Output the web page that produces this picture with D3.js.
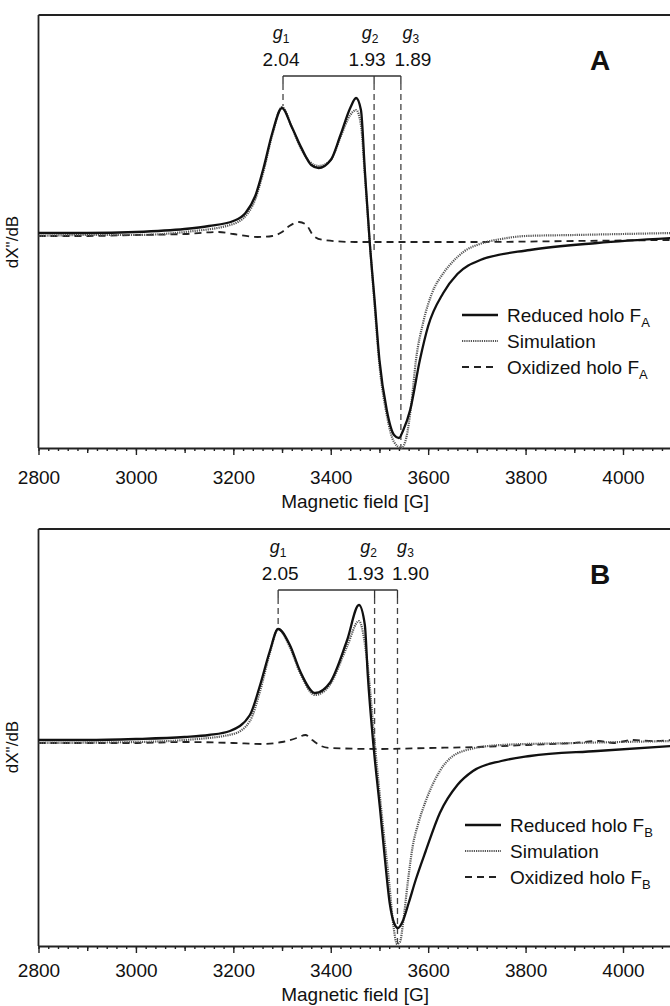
<!DOCTYPE html>
<html>
<head>
<meta charset="utf-8">
<script src="https://cdn.jsdelivr.net/npm/d3@7"></script>
<style>
  body { margin: 0; background: #fff; }
  svg { display: block; font-family: "Liberation Sans", Arial, Helvetica, sans-serif; }
</style>
</head>
<body>
<div id="chart"></div>
<script>
// ---- data (field in G, signal in arbitrary units) ----
const fieldTicks = [2800, 3000, 3200, 3400, 3600, 3800, 4000];

const reducedA = [[2800,0.045],[2900,0.045],[3000,0.05],[3100,0.065],[3150,0.08],[3200,0.105],[3225,0.145],
  [3245,0.23],[3262,0.37],[3280,0.545],[3300,0.67],[3320,0.575],[3340,0.47],[3360,0.385],[3375,0.37],
  [3400,0.41],[3420,0.535],[3440,0.67],[3452,0.72],[3462,0.66],[3470,0.36],[3480,0],[3490,-0.29],
  [3500,-0.59],[3515,-0.84],[3530,-0.965],[3540,-0.98],[3549,-0.94],[3563,-0.84],[3583,-0.59],
  [3600,-0.42],[3631,-0.255],[3660,-0.16],[3707,-0.09],[3809,-0.04],[3947,-0.005],[4100,0.02]];

const simA = [[2800,0.03],[2900,0.035],[3000,0.035],[3100,0.05],[3200,0.09],[3240,0.185],[3260,0.335],
  [3280,0.535],[3300,0.675],[3320,0.575],[3340,0.46],[3375,0.38],[3400,0.41],[3420,0.525],[3440,0.635],
  [3452,0.66],[3462,0.585],[3470,0.335],[3480,0],[3490,-0.315],[3500,-0.615],[3515,-0.865],[3530,-1.0],
  [3545,-1.03],[3555,-0.98],[3565,-0.82],[3575,-0.59],[3590,-0.4],[3608,-0.255],[3630,-0.16],
  [3650,-0.1],[3675,-0.045],[3706,-0.01],[3750,0.015],[3800,0.03],[3900,0.035],[4100,0.045]];

const oxidizedA = [[2800,0.03],[2900,0.03],[3000,0.035],[3100,0.04],[3170,0.05],[3200,0.04],[3250,0.025],
  [3280,0.03],[3300,0.05],[3315,0.08],[3335,0.1],[3350,0.085],[3365,0.03],[3385,0.01],[3450,0],
  [3600,0],[3700,0],[3900,0.005],[4100,0.01]];

const reducedB = [[2800,0.035],[2900,0.035],[3000,0.04],[3100,0.05],[3150,0.06],[3193,0.08],[3234,0.16],
  [3255,0.31],[3275,0.48],[3292,0.59],[3316,0.51],[3337,0.38],[3368,0.27],[3398,0.32],[3433,0.53],
  [3458,0.71],[3470,0.61],[3476,0.36],[3488,0],[3501,-0.305],[3511,-0.555],[3521,-0.78],[3530,-0.88],
  [3538,-0.905],[3548,-0.87],[3560,-0.78],[3575,-0.66],[3595,-0.52],[3624,-0.33],[3660,-0.19],
  [3692,-0.12],[3750,-0.07],[3809,-0.045],[3947,-0.02],[4100,0.005]];

const simB = [[2800,0.02],[3000,0.025],[3100,0.035],[3200,0.065],[3234,0.13],[3255,0.28],[3275,0.47],
  [3292,0.59],[3316,0.5],[3337,0.37],[3368,0.26],[3398,0.31],[3433,0.5],[3458,0.63],[3474,0.445],
  [3491,0],[3507,-0.39],[3520,-0.68],[3529,-0.9],[3536,-0.985],[3542,-0.975],[3549,-0.87],[3558,-0.68],
  [3568,-0.5],[3580,-0.38],[3595,-0.27],[3624,-0.12],[3672,-0.02],[3750,0.01],[3900,0.02],[4100,0.03]];

const oxidizedB = [[2800,0.02],[2900,0.02],[3000,0.02],[3100,0.025],[3200,0.02],[3260,0.015],[3300,0.025],
  [3330,0.045],[3348,0.06],[3362,0.035],[3380,0.005],[3400,-0.005],[3500,-0.01],[3600,-0.005],
  [3700,0],[3800,0.01],[3900,0.02],[3950,0.03],[3980,0.02],[4020,0.035],[4060,0.03],[4100,0.035]];

const gFieldsA = [3302, 3489, 3544];
const gValuesA = ["2.04", "1.93", "1.89"];
const gFieldsB = [3292, 3490, 3537];
const gValuesB = ["2.05", "1.93", "1.90"];
const gNames = ["1", "2", "3"];
const legendNames = ["Reduced holo F", "Simulation", "Oxidized holo F"];

// ---- layout ----
const W = 670, H = 1006;
const xLeft = 38.5, xRight = 671.7;

const svg = d3.select("#chart").append("svg")
  .attr("width", W).attr("height", H);

const x = d3.scaleLinear().domain([2800, 4100]).range([xLeft, xRight]);

const styles = [
  { stroke: "#111", width: 2.3, dash: null },
  { stroke: "#555", width: 2.2, dash: "1.2,1" },
  { stroke: "#222", width: 1.8, dash: "7,5" }
];

function drawPanel(p) {
  const y = d3.scaleLinear().domain(p.yDomain).range([p.bottom, p.top]);
  const g = svg.append("g");

  const clipId = "clip" + p.letter;
  svg.append("clipPath").attr("id", clipId)
    .append("rect").attr("x", xLeft).attr("y", p.top)
    .attr("width", xRight - xLeft).attr("height", p.bottom - p.top + 2);

  // frame: top and left
  g.append("line").attr("x1", xLeft).attr("x2", W).attr("y1", p.top).attr("y2", p.top)
    .attr("stroke", "#222").attr("stroke-width", 1.8);
  g.append("line").attr("x1", xLeft).attr("x2", xLeft).attr("y1", p.top).attr("y2", p.bottom)
    .attr("stroke", "#222").attr("stroke-width", 1.8);

  // axis: minor, mid and major ticks
  const minor = g.append("g").attr("transform", `translate(0,${p.bottom})`)
    .call(d3.axisBottom(x).tickValues(d3.range(2800, 4101, 20)).tickSize(3).tickFormat(""));
  const mid = g.append("g").attr("transform", `translate(0,${p.bottom})`)
    .call(d3.axisBottom(x).tickValues(d3.range(2900, 4101, 200)).tickSize(5).tickFormat(""));
  const major = g.append("g").attr("transform", `translate(0,${p.bottom})`)
    .call(d3.axisBottom(x).tickValues(fieldTicks).tickSize(7).tickPadding(p.tickPad)
      .tickSizeOuter(0).tickFormat(d3.format("d")));
  [minor, mid].forEach(a => a.select(".domain").remove());
  [minor, mid, major].forEach(a => a.selectAll("line").attr("stroke", "#222").attr("stroke-width", 1.4));
  major.select(".domain").attr("stroke", "#222").attr("stroke-width", 1.8);
  major.selectAll("text").attr("font-size", 19).attr("fill", "#111")
    .attr("font-family", "Liberation Sans, Arial, sans-serif");

  g.append("text").attr("x", (xLeft + xRight) / 2).attr("y", p.bottom + p.titleOffset)
    .attr("text-anchor", "middle").attr("font-size", 19).attr("fill", "#111")
    .text("Magnetic field [G]");

  // y label
  g.append("text")
    .attr("transform", `translate(18,${y(0)}) rotate(-90)`)
    .attr("text-anchor", "middle").attr("font-size", 17).attr("fill", "#111")
    .text('dX"/dB');

  // g markers
  const gy = p.top + 24, vy = p.top + 51, by = p.top + 61;
  const peakVal = d3.max(p.series[0].filter(d => Math.abs(d[0] - p.gFields[0]) < 15), d => d[1]);
  const ends = [y(peakVal) - 2, y(-0.04), p.bottom];
  p.gFields.forEach((f, i) => {
    g.append("line").attr("x1", x(f)).attr("x2", x(f)).attr("y1", by).attr("y2", by + 8)
      .attr("stroke", "#333").attr("stroke-width", 1.3);
    g.append("line").attr("x1", x(f)).attr("x2", x(f)).attr("y1", by + 8).attr("y2", ends[i])
      .attr("stroke", "#444").attr("stroke-width", 1.3).attr("stroke-dasharray", "6,4");
    const t = g.append("text").attr("x", x(f) + p.gNameShift[i]).attr("y", gy)
      .attr("text-anchor", "middle").attr("font-size", 18).attr("fill", "#111");
    t.append("tspan").attr("font-style", "italic").text("g");
    t.append("tspan").attr("font-size", 12).attr("dy", 4).text(gNames[i]);
    g.append("text").attr("x", x(f) + p.gValueShift[i]).attr("y", vy)
      .attr("text-anchor", "middle").attr("font-size", 19).attr("fill", "#111")
      .text(p.gValues[i]);
  });
  g.append("line").attr("x1", x(p.gFields[0])).attr("x2", x(p.gFields[2]))
    .attr("y1", by).attr("y2", by).attr("stroke", "#333").attr("stroke-width", 1.5);

  g.append("text").attr("x", 600).attr("y", vy + 4).attr("text-anchor", "middle")
    .attr("font-size", 28).attr("font-weight", "bold").attr("fill", "#111").text(p.letter);

  // curves (draw order: oxidized, simulation, reduced)
  const line = d3.line().x(d => x(d[0])).y(d => y(d[1])).curve(d3.curveMonotoneX);
  [2, 1, 0].forEach(i => {
    g.append("path").datum(p.series[i])
      .attr("clip-path", `url(#${clipId})`)
      .attr("fill", "none")
      .attr("stroke", styles[i].stroke)
      .attr("stroke-width", styles[i].width)
      .attr("stroke-dasharray", styles[i].dash)
      .attr("stroke-linejoin", "round")
      .attr("d", line);
  });

  // legend
  const lg = g.append("g");
  legendNames.forEach((name, i) => {
    const ly = p.legendY + i * 26;
    lg.append("line").attr("x1", p.legendX).attr("x2", p.legendX + 36).attr("y1", ly).attr("y2", ly)
      .attr("stroke", styles[i].stroke).attr("stroke-width", styles[i].width)
      .attr("stroke-dasharray", styles[i].dash);
    const t = lg.append("text").attr("x", p.legendX + 45).attr("y", ly + 7)
      .attr("font-size", 19).attr("fill", "#111").text(name);
    if (i !== 1) t.append("tspan").attr("font-size", 13).attr("dy", 5).text(p.letter);
  });
}

drawPanel({
  letter: "A", top: 15, bottom: 448, yDomain: [-1.03, 1.135],
  series: [reducedA, simA, oxidizedA],
  gFields: gFieldsA, gValues: gValuesA,
  gNameShift: [-2, -4, 10], gValueShift: [-2, -7, 12],
  legendX: 462, legendY: 315, tickPad: 16, titleOffset: 60
});

drawPanel({
  letter: "B", top: 529, bottom: 946, yDomain: [-0.995, 1.09],
  series: [reducedB, simB, oxidizedB],
  gFields: gFieldsB, gValues: gValuesB,
  gNameShift: [0, -6, 8], gValueShift: [2, -9, 13],
  legendX: 465, legendY: 825, tickPad: 11, titleOffset: 55
});
</script>
</body>
</html>
